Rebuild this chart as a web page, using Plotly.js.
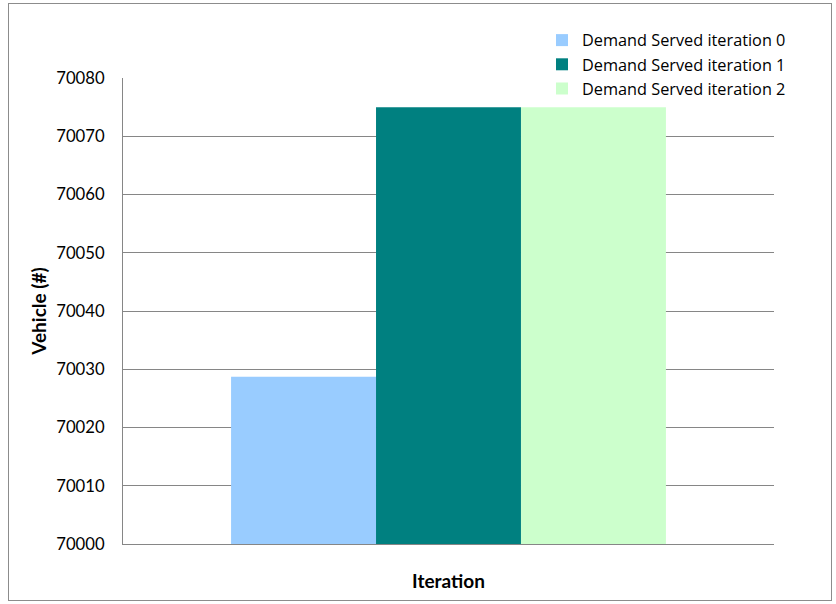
<!DOCTYPE html>
<html>
<head>
<meta charset="utf-8">
<script src="https://cdn.plot.ly/plotly-3.0.1.min.js"></script>
<style>
html,body{margin:0;padding:0;background:#fff;}
#wrap{position:relative;width:836px;height:604px;}
#chart{width:836px;height:604px;}
#frame{position:absolute;left:8px;top:3px;width:822px;height:596px;border:1.5px solid #8c8c8c;pointer-events:none;}
</style>
</head>
<body>
<div id="wrap"><div id="chart"></div><div id="frame"></div></div>
<script>
const categories = ["Iteration"];
const seriesNames = ["Demand Served iteration 0", "Demand Served iteration 1", "Demand Served iteration 2"];
const seriesValues = [[70028.7], [70075], [70075]];
const seriesColors = ["#99ccff", "#008080", "#ccffcc"];
const yTicks = [70000, 70010, 70020, 70030, 70040, 70050, 70060, 70070, 70080];

const font = "Lato, 'Open Sans', sans-serif";
const legendFont = "'Open Sans', Lato, sans-serif";
const traces = seriesNames.map((n, i) => ({
  type: "bar",
  name: n,
  x: categories,
  y: seriesValues[i],
  marker: {color: seriesColors[i], line: {width: 0}},
  hoverinfo: "none"
}));

const layout = {
  width: 836, height: 604,
  margin: {l: 123, r: 62, t: 78, b: 60},
  paper_bgcolor: "#ffffff", plot_bgcolor: "#ffffff",
  barmode: "group", bargap: 0.332, bargroupgap: 0,
  font: {family: font, size: 16, color: "#000"},
  showlegend: true,
  legend: {x: 0.6436, y: 1.118, xanchor: "left", yanchor: "top", bgcolor: "#ffffff",
           font: {family: legendFont, size: 16.3, color: "#000"}, itemwidth: 30, tracegroupgap: 0},
  xaxis: {
    showticklabels: false, showline: true, linecolor: "#868686", linewidth: 1,
    ticks: "", showgrid: false, zeroline: false,
    title: {text: "<b>Iteration</b>", font: {family: font, size: 19}, standoff: 30}
  },
  yaxis: {
    range: [70000, 70080], tickvals: yTicks, ticktext: yTicks.map(String),
    showline: true, linecolor: "#868686", linewidth: 1,
    showgrid: true, gridcolor: "#868686", gridwidth: 1,
    ticks: "outside", ticklen: 14, tickcolor: "rgba(0,0,0,0)",
    zeroline: false, tickfont: {family: font, size: 16.7},
    title: {text: "<b>Vehicle (#)</b>", font: {family: font, size: 19}, standoff: 4}
  }
};
Plotly.newPlot("chart", traces, layout, {displayModeBar: false, staticPlot: true});
</script>
</body>
</html>
